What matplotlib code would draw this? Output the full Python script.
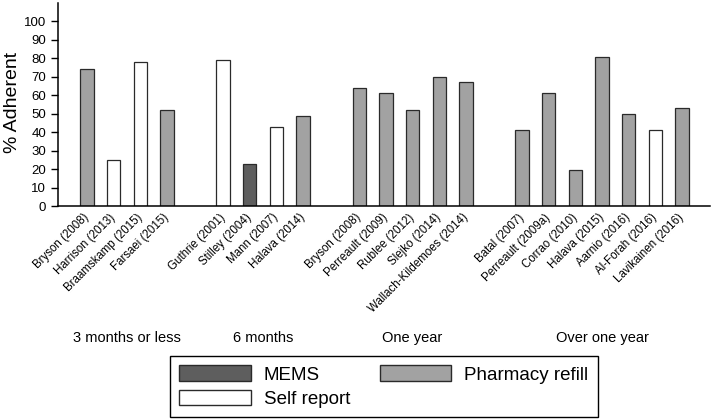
import matplotlib.pyplot as plt
from matplotlib.patches import Patch
from matplotlib.transforms import blended_transform_factory

plt.rcParams['font.family'] = ['Liberation Sans', 'DejaVu Sans']

# studies per follow-up group
groups = ['3 months or less', '6 months', 'One year', 'Over one year']
studies = [
    ['Bryson (2008)', 'Harrison (2013)', 'Braamskamp (2015)', 'Farsaei (2015)'],
    ['Guthrie (2001)', 'Stilley (2004)', 'Mann (2007)', 'Halava (2014)'],
    ['Bryson (2008)', 'Perreault (2009)', 'Rublee (2012)', 'Slejko (2014)',
     'Wallach-Kildemoes (2014)'],
    ['Batal (2007)', 'Perreault (2009a)', 'Corrao (2010)', 'Halava (2015)',
     'Aarnio (2016)', 'Al-Forah (2016)', 'Lavikainen (2016)'],
]
adherent = [
    [74, 25, 78, 52],
    [79, 22.5, 43, 49],
    [64, 61, 52, 70, 67],
    [41, 61, 19.5, 81, 50, 41, 53],
]
method = [
    ['P', 'S', 'S', 'P'],
    ['S', 'M', 'S', 'P'],
    ['P', 'P', 'P', 'P', 'P'],
    ['P', 'P', 'P', 'P', 'P', 'S', 'P'],
]

colors = {'M': '#5e5e5e', 'P': '#a2a2a2', 'S': '#ffffff'}
names = {'M': 'MEMS', 'P': 'Pharmacy refill', 'S': 'Self report'}

fig = plt.figure(figsize=(7.14, 4.2), dpi=100)
ax = fig.add_axes([0.0812, 0.5095, 0.9132, 0.4834])

gap = 2.1
start = 0.0
xs, labels, vals, cols, centers = [], [], [], [], []
for g in range(len(groups)):
    pos = [start + i for i in range(len(studies[g]))]
    xs += pos
    labels += studies[g]
    vals += adherent[g]
    cols += [colors[m] for m in method[g]]
    centers.append(sum(pos) / len(pos))
    start = pos[-1] + gap

ax.bar(xs, vals, width=0.5, color=cols, edgecolor='#2a2a2a', linewidth=0.9)

ax.set_xlim(-1.09, 23.35)
ax.set_ylim(0, 110)
ax.set_yticks(range(0, 101, 10))
ax.tick_params(axis='y', labelsize=9.5, length=5, width=1)
ax.set_xticks(xs)
ax.set_xticklabels(labels, rotation=45, ha='right', va='center',
                   rotation_mode='anchor', fontsize=8.3)
ax.tick_params(axis='x', length=0, pad=7)
ax.spines['top'].set_visible(False)
ax.spines['right'].set_visible(False)
ax.spines['left'].set_linewidth(1.1)
ax.spines['bottom'].set_linewidth(1.1)
ax.set_ylabel('% Adherent', fontsize=14)
ax.yaxis.set_label_coords(-0.056, 0.51)

bt = blended_transform_factory(ax.transData, fig.transFigure)
for c, g in zip(centers, groups):
    ax.text(c, 0.195, g, transform=bt, ha='center', va='center', fontsize=10.5)

handles = [Patch(facecolor=colors[k], edgecolor='#2a2a2a', label=names[k])
           for k in ['M', 'S', 'P']]
fig.legend(handles=handles, ncol=2, loc='upper left',
           bbox_to_anchor=(170 / 714, 1 - 356 / 420), borderaxespad=0,
           fontsize=13.5, frameon=True, fancybox=False, edgecolor='black',
           framealpha=1, handlelength=3.8, handleheight=0.9,
           handletextpad=0.7, columnspacing=1.6, labelspacing=0.32,
           borderpad=0.5)

fig.savefig('out.png', dpi=100)
